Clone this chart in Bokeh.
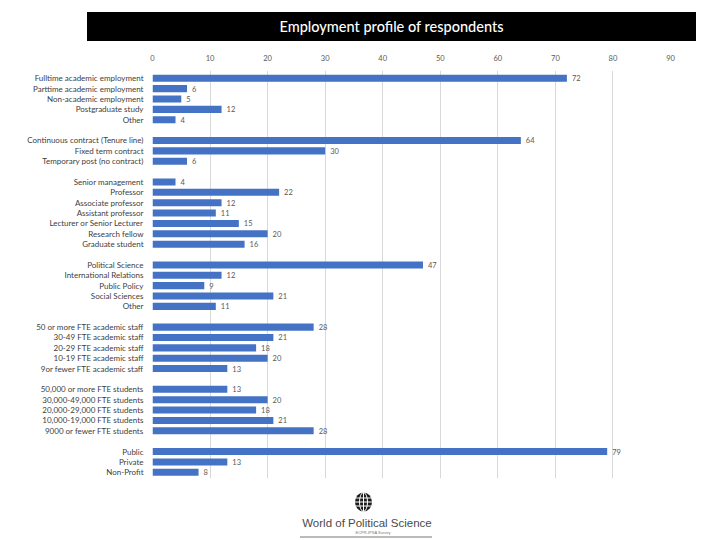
from bokeh.plotting import figure
from bokeh.models import Range1d, FixedTicker, ColumnDataSource, Div
from bokeh.layouts import column
from bokeh.core.properties import value
from bokeh.embed import file_html
from bokeh.resources import INLINE

# ---- data ----
group_labels = [
    ["Fulltime academic employment", "Parttime academic employment", "Non-academic employment",
     "Postgraduate study", "Other"],
    ["Continuous contract (Tenure line)", "Fixed term contract", "Temporary post (no contract)"],
    ["Senior management", "Professor", "Associate professor", "Assistant professor",
     "Lecturer or Senior Lecturer", "Research fellow", "Graduate student"],
    ["Political Science", "International Relations", "Public Policy", "Social Sciences", "Other"],
    ["50 or more FTE academic staff", "30-49 FTE academic staff", "20-29 FTE academic staff",
     "10-19 FTE academic staff", "9or fewer FTE academic staff"],
    ["50,000 or more FTE students", "30,000-49,000 FTE students", "20,000-29,000 FTE students",
     "10,000-19,000 FTE students", "9000 or fewer FTE students"],
    ["Public", "Private", "Non-Profit"],
]
group_values = [
    [72, 6, 5, 12, 4],
    [64, 30, 6],
    [4, 22, 12, 11, 15, 20, 16],
    [47, 12, 9, 21, 11],
    [28, 21, 18, 20, 13],
    [13, 20, 18, 21, 28],
    [79, 13, 8],
]
x_ticks = [0, 10, 20, 30, 40, 50, 60, 70, 80, 90]
title_text = "Employment profile of respondents"

# ---- build rows (one blank slot between groups) ----
ys, vals, names = [], [], []
pos = 0
for labels, values in zip(group_labels, group_values):
    for lab, v in zip(labels, values):
        ys.append(pos)
        vals.append(v)
        names.append(lab)
        pos += 1
    pos += 1
last = ys[-1]

src = ColumnDataSource(dict(y=ys, v=vals, lbl=[str(v) for v in vals]))

FONT = "Lato"

p = figure(width=720, height=440, output_backend="svg", toolbar_location=None,
           x_range=Range1d(0, 90), y_range=Range1d(last + 0.6, -0.75),
           x_axis_location="above",
           min_border_left=152, min_border_right=50, min_border_top=25, min_border_bottom=7)
p.outline_line_color = None
p.background_fill_color = "white"
p.border_fill_color = "white"

p.hbar(y="y", left=0, right="v", height=0.68, fill_color="#4472C4", line_color=None, source=src)
p.text(x="v", y="y", text="lbl", x_offset=5, text_baseline="middle", text_align="left",
       text_font_size="7.5px", text_color="#595959", text_font=value(FONT), source=src)

xa = p.xaxis[0]
xa.ticker = FixedTicker(ticks=x_ticks)
xa.axis_line_color = None
xa.major_tick_line_color = None
xa.minor_tick_line_color = None
xa.major_label_standoff = 4
xa.major_label_text_font_size = "7.5px"
xa.major_label_text_color = "#595959"
xa.major_label_text_font = FONT

ya = p.yaxis[0]
ya.ticker = FixedTicker(ticks=ys)
ya.major_label_overrides = {y: n for y, n in zip(ys, names)}
ya.axis_line_color = None
ya.major_tick_line_color = None
ya.minor_tick_line_color = None
ya.major_label_standoff = 3
ya.major_label_text_font_size = "8px"
ya.major_label_text_color = "#404040"
ya.major_label_text_font = FONT

p.xgrid.grid_line_color = "#d9d9d9"
p.xgrid.ticker = FixedTicker(ticks=x_ticks)
p.ygrid.grid_line_color = None

title = Div(text=title_text, width=609, height=29, margin=(12, 0, 4, 87),
            styles={"background-color": "black", "color": "white", "font-family": "Lato",
                    "font-size": "14.5px", "font-weight": "500", "text-align": "center",
                    "line-height": "29px", "width": "609px", "height": "29px"})

logo_svg = """
<svg width="720" height="55" xmlns="http://www.w3.org/2000/svg">
  <ellipse cx="363.5" cy="17" rx="8.5" ry="9.5" fill="#1a1a1a"/>
  <g stroke="white" stroke-width="1" fill="none">
    <line x1="355" y1="13" x2="372" y2="13"/>
    <line x1="355" y1="17" x2="372" y2="17"/>
    <line x1="355" y1="21" x2="372" y2="21"/>
    <line x1="363.5" y1="7.5" x2="363.5" y2="26.5"/>
    <ellipse cx="363.5" cy="17" rx="4" ry="9.5"/>
  </g>
  <text x="367" y="42" text-anchor="middle" font-family="Open Sans" font-size="11.5" fill="#4a4a4a">World of Political Science</text>
  <text x="373" y="48.5" text-anchor="middle" font-family="Open Sans" font-size="4" fill="#777777">ECPR-IPSA Survey</text>
  <line x1="300" y1="52" x2="432" y2="52" stroke="#bbbbbb" stroke-width="2"/>
</svg>
"""
logo = Div(text=logo_svg, width=720, height=55, margin=(0, 0, 0, 0))

layout = column(title, p, logo, spacing=0)

with open("out.html", "w") as f:
    f.write(file_html(layout, INLINE))
